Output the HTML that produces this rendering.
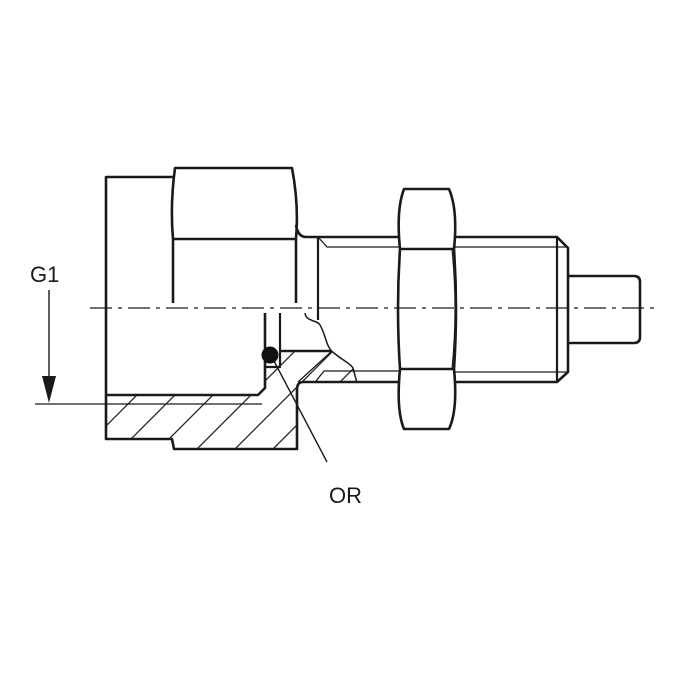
<!DOCTYPE html>
<html><head><meta charset="utf-8"><style>html,body{margin:0;padding:0;background:#fff}svg{display:block}</style></head>
<body>
<svg width="700" height="700" viewBox="0 0 700 700" xmlns="http://www.w3.org/2000/svg">
<defs>
<pattern id="h" patternUnits="userSpaceOnUse" width="38" height="38" patternTransform="rotate(0)">
<path d="M-10,48 L48,-10 M-48,48 L10,-10 M28,48 L86,-10" stroke="#222" stroke-width="1.3"/>
</pattern>
</defs>
<g fill="none" stroke="#1a1a1a" stroke-linejoin="round">
<!-- section hatch -->
<path d="M106,395 L258,395 L265,388 L265,367 L280,367 L280,351 L332,351 C338,360 350,364 354,370 L357,382 L302,382 Q297,384 297,390 L297,449 L174,449 L172,439 L106,439 Z" fill="url(#h)" stroke="none"/>
<!-- body outer -->
<path d="M173,177 L106,177 L106,439 L172,439 L174,449 L297,449 L297,390 Q297,382 303,382 L400,382" stroke-width="2.6"/>
<path d="M106,395 L258,395 L265,388 L265,313" stroke-width="2.6"/>
<path d="M280,313 L280,367 L265,367" stroke-width="2.2"/>
<path d="M280,351 L332,351" stroke-width="2.6"/>
<!-- left nut -->
<path d="M173,303 L173,239 Q170,205 175,168 L292,168 Q299,205 296,239 L296,303" stroke-width="2.6"/>
<path d="M173,239 L296,239" stroke-width="2.6"/>
<path d="M296,225 Q298,237 306,237 L400,237" stroke-width="2.6"/>
<!-- shaft left -->
<path d="M318,237 L318,320" stroke-width="2.2"/>
<path d="M318,237 L327,247 L400,247" stroke-width="1.3"/>
<path d="M316,381 L324,371 L400,371" stroke-width="1.3"/>
<!-- break line -->
<path d="M305,313 C306,322 318,320 320,325 C326,335 326,348 334,353 C342,360 350,363 353,368 L357,383" stroke-width="1.5"/>
<path d="M332,351 L298,382" stroke-width="1.3"/>
<!-- hex nut right -->
<path d="M404,189 L449,189 Q458,210 454,249 Q458,309 454,369 Q458,410 449,429 L404,429 Q396,410 400,369 Q396,309 400,249 Q396,210 404,189 Z" stroke-width="2.6"/>
<path d="M401,249 L453,249 M401,369 L453,369" stroke-width="2.4"/>
<path d="M452,249 Q458,309 452,369" stroke-width="1.2"/>
<!-- thread right -->
<path d="M454,237 L557,237 L568,248 L568,372 L557,382 L454,382" stroke-width="2.6"/>
<path d="M557,237 L557,382" stroke-width="2.2"/>
<path d="M454,247 L568,247 M454,372 L568,372" stroke-width="1.3"/>
<!-- pin -->
<path d="M568,276 L634,276 Q640,276 640,282 L640,337 Q640,343 634,343 L568,343" stroke-width="2.6"/>
<!-- centerline -->
<path d="M90,308 L656,308" stroke-width="1.2" stroke-dasharray="22,6,4,6"/>
<!-- G1 dimension -->
<path d="M35,404 L262,404" stroke-width="1.3"/>
<path d="M49,290 L49,380" stroke-width="1.4"/>
<!-- leader -->
<path d="M274,361 L327,462" stroke-width="1.4"/>
</g>
<path d="M42,376 L56,376 L49,403 Z" fill="#1a1a1a"/>
<circle cx="270" cy="355" r="8.5" fill="#111"/>
<text x="30" y="282" font-family="Liberation Sans, sans-serif" font-size="22" fill="#1a1a1a">G1</text>
<text x="329" y="503" font-family="Liberation Sans, sans-serif" font-size="22" fill="#1a1a1a">OR</text>
</svg>
</body></html>
